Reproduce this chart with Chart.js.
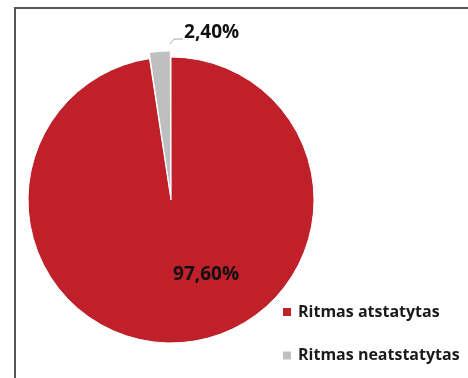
<!DOCTYPE html>
<html>
<head>
<meta charset="utf-8">
<script src="https://cdn.jsdelivr.net/npm/chart.js@4.4.0/dist/chart.umd.min.js"></script>
<style>
  html, body { margin: 0; padding: 0; background: #fff; }
  #wrap { position: relative; width: 468px; height: 378px; overflow: hidden; }
  #frame { position: absolute; left: 14px; top: 7px; right: -5px; bottom: -5px;
           border-left: 2px solid #555; border-top: 2px solid #555; }
  canvas { position: absolute; left: 0; top: 0; }
</style>
</head>
<body>
<div id="wrap">
  <div id="frame"></div>
  <canvas id="pie-chart" width="468" height="378"></canvas>
</div>
<script>
const categories = ['Ritmas atstatytas', 'Ritmas neatstatytas'];
const shares = [97.6, 2.4];
const sliceColors = ['#C0202A', '#BFBFBF'];

const fmtPct = v => v.toFixed(2).replace('.', ',') + '%';
const FONT = 'bold 19px "Open Sans"';

// value labels + the little leader line, and the legend on the right
const labelsPlugin = {
  id: 'pieLabels',
  afterDatasetsDraw(chart) {
    const ctx = chart.ctx;
    const meta = chart.getDatasetMeta(0);
    const big = meta.data[0];
    const small = meta.data[1];
    ctx.save();
    ctx.fillStyle = '#111';
    ctx.font = FONT;
    ctx.textAlign = 'center';
    ctx.textBaseline = 'middle';
    const r = big.outerRadius;
    ctx.fillText(fmtPct(shares[0]), big.x + r * 0.245, big.y + r * 0.525);

    // exploded slice: leader from its outer corner
    const mid = (small.startAngle + small.endAngle) / 2;
    const off = small.options.offset;
    const ox = small.x + Math.cos(mid) * off;
    const oy = small.y + Math.sin(mid) * off;
    const ex = ox + Math.cos(small.endAngle) * small.outerRadius;
    const ey = oy + Math.sin(small.endAngle) * small.outerRadius;
    ctx.strokeStyle = '#A6A6A6';
    ctx.lineWidth = 1;
    ctx.beginPath();
    ctx.moveTo(ex, ey);
    ctx.lineTo(ex + 4, ey - 5);
    ctx.lineTo(ex + 13, ey - 5);
    ctx.stroke();
    ctx.textAlign = 'left';
    ctx.fillText(fmtPct(shares[1]), ex + 14, ey - 11);
    ctx.restore();
  },
  afterDraw(chart) {
    const ctx = chart.ctx;
    ctx.save();
    ctx.font = 'bold 16px "Open Sans"';
    ctx.textBaseline = 'middle';
    ctx.textAlign = 'left';
    categories.forEach((name, i) => {
      const y = 312 + i * 43.5;
      ctx.fillStyle = sliceColors[i];
      ctx.fillRect(283, y - 4, 8, 8);
      ctx.fillStyle = '#1a1a1a';
      ctx.fillText(name, 298, y);
    });
    ctx.restore();
  }
};

const pieChart = new Chart(document.getElementById('pie-chart'), {
  type: 'pie',
  data: {
    labels: categories,
    datasets: [{
      data: shares,
      backgroundColor: sliceColors,
      borderColor: '#fff',
      borderWidth: 1,
      offset: [0, 13]
    }]
  },
  options: {
    responsive: false,
    animation: false,
    radius: 143,
    layout: { padding: { left: 21, right: 147, top: 50, bottom: 28 } },
    plugins: {
      legend: { display: false },
      tooltip: { enabled: false }
    }
  },
  plugins: [labelsPlugin]
});
</script>
</body>
</html>
